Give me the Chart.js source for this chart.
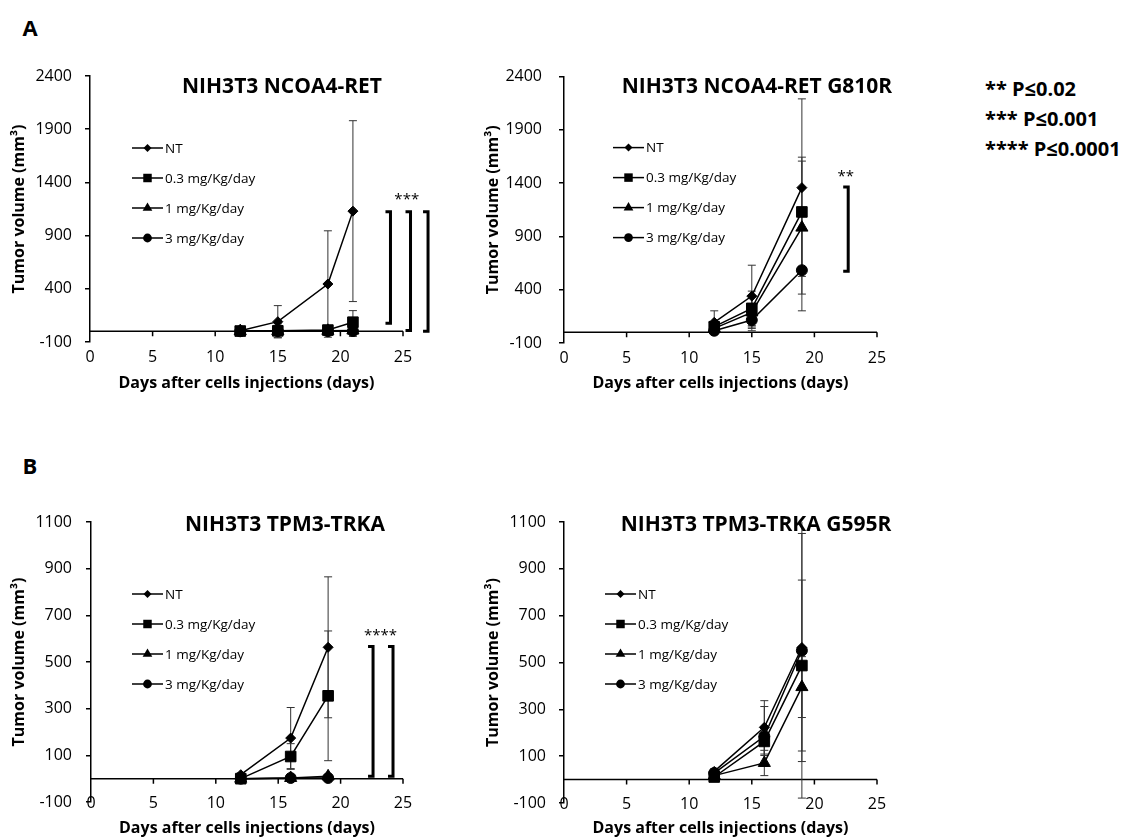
<!DOCTYPE html>
<html>
<head>
<meta charset="utf-8">
<script src="https://cdn.jsdelivr.net/npm/chart.js@4.4.0/dist/chart.umd.min.js"></script>
<style>
  body { margin: 0; width: 1138px; height: 838px; background: #fff; position: relative; overflow: hidden;
         font-family: 'Open Sans', sans-serif; color: #000; }
  canvas { position: absolute; }
  .txt { position: absolute; font-weight: bold; white-space: nowrap; transform: translate(-50%, -50%); z-index: 2; }
  .pv { position: absolute; left: 985px; font-weight: bold; font-size: 20px; white-space: nowrap; transform: translateY(-50%); }
</style>
</head>
<body>
<div class="txt" style="left:30px; top:27px; font-size:22px;">A</div>
<div class="txt" style="left:30px; top:465px; font-size:22px;">B</div>

<div class="txt" style="left:282px; top:85px; font-size:21px;">NIH3T3 NCOA4-RET</div>
<div class="txt" style="left:757px; top:85px; font-size:21px;">NIH3T3 NCOA4-RET G810R</div>
<div class="txt" style="left:285px; top:523px; font-size:21px;">NIH3T3 TPM3-TRKA</div>
<div class="txt" style="left:756px; top:523px; font-size:21px;">NIH3T3 TPM3-TRKA G595R</div>

<div class="pv" style="top:88px;">** P≤0.02</div>
<div class="pv" style="top:118px;">*** P≤0.001</div>
<div class="pv" style="top:148px;">**** P≤0.0001</div>

<canvas id="retChart" width="460" height="350" style="left:0px; top:50px;"></canvas>
<canvas id="g810Chart" width="460" height="350" style="left:470px; top:50px;"></canvas>
<canvas id="trkaChart" width="460" height="348" style="left:0px; top:490px;"></canvas>
<canvas id="g595Chart" width="460" height="348" style="left:470px; top:490px;"></canvas>

<script>
// Series shared by all four panels
const seriesNames = ['NT', '0.3 mg/Kg/day', '1 mg/Kg/day', '3 mg/Kg/day'];
const seriesMarkers = ['rectRot', 'rect', 'triangle', 'circle'];
const markerSizes = [5, 7.5, 7, 5.5];

// NIH3T3 NCOA4-RET
const retDays = [12, 15, 19, 21];
const retNT = [5, 91, 445, 1130];
const ret03 = [3, 5, 12, 86];
const ret1 = [2, 3, 5, 8];
const ret3 = [1, 2, 2, 3];
const retNTErr = [20, 151, 500, 850];
const ret03Err = [10, 65, 30, 109];
const ret1Err = [8, 10, 15, 55];
const ret3Err = [5, 8, 10, 30];
const retBracketX = [24, 25.6, 27];
const retBracketTop = [1125, 1125, 1125];
const retBracketBottom = [76, 7, 0];
const retStars = { x: 25.3, y: 1235, text: '***' };

// NIH3T3 NCOA4-RET G810R
const g810Days = [12, 15, 19];
const g810NT = [94, 340, 1358];
const g81003 = [53, 225, 1130];
const g8101 = [37, 187, 983];
const g8103 = [15, 115, 583];
const g810NTErr = [108, 290, 833];
const g81003Err = [40, 162, 514];
const g8101Err = [30, 150, 624];
const g8103Err = [20, 100, 381];
const g810BracketX = [22.7];
const g810BracketTop = [1363];
const g810BracketBottom = [574];
const g810Stars = { x: 22.5, y: 1457, text: '**' };

// NIH3T3 TPM3-TRKA
const trkaDays = [12, 16, 19];
const trkaNT = [17, 174, 563];
const trka03 = [0, 95, 355];
const trka1 = [0, 3, 10];
const trka3 = [0, 3, 3];
const trkaNTErr = [8, 131, 302];
const trka03Err = [3, 55, 278];
const trka1Err = [2, 3, 5];
const trka3Err = [2, 3, 3];
const trkaBracketX = [22.6, 24.2];
const trkaBracketTop = [566, 566];
const trkaBracketBottom = [10, 10];
const trkaStars = { x: 23.2, y: 612, text: '****' };

// NIH3T3 TPM3-TRKA G595R
const g595Days = [12, 16, 19];
const g595NT = [35, 223, 564];
const g59503 = [11, 163, 487];
const g5951 = [17, 71, 395];
const g5953 = [28, 185, 551];
const g595NTErr = [12, 114, 487];
const g59503Err = [8, 60, 365];
const g5951Err = [8, 54, 130];
const g5953Err = [10, 127, 630];

const FONT = "'Open Sans', sans-serif";

function drawMarker(ctx, style, x, y, r) {
    ctx.beginPath();
    if (style === 'rectRot') {
        ctx.moveTo(x, y - r); ctx.lineTo(x + r, y); ctx.lineTo(x, y + r); ctx.lineTo(x - r, y);
    } else if (style === 'rect') {
        const s = r * Math.SQRT1_2;
        ctx.rect(x - s, y - s, 2 * s, 2 * s);
    } else if (style === 'triangle') {
        ctx.moveTo(x, y - r);
        ctx.lineTo(x + r * 0.866, y + r * 0.5);
        ctx.lineTo(x - r * 0.866, y + r * 0.5);
    } else {
        ctx.arc(x, y, r, 0, Math.PI * 2);
    }
    ctx.closePath();
    ctx.fill();
}

// Zero axis, error bars, brackets and the in-plot legend
function extrasPlugin(panel) {
    return {
        id: 'extras',
        beforeDatasetsDraw(chart) {
            const { ctx, chartArea, scales: { x, y } } = chart;
            const y0 = y.getPixelForValue(0);
            ctx.save();
            ctx.strokeStyle = '#000';
            ctx.lineWidth = 1.5;
            ctx.beginPath();
            ctx.moveTo(chartArea.left, y0);
            ctx.lineTo(chartArea.right, y0);
            x.ticks.forEach(t => {
                const px = x.getPixelForValue(t.value);
                if (t.value === 0) return;
                ctx.moveTo(px, y0);
                ctx.lineTo(px, y0 + 5);
            });
            ctx.stroke();

            ctx.beginPath();
            ctx.rect(chartArea.left, chartArea.top, chartArea.right - chartArea.left, chartArea.bottom - chartArea.top + 2);
            ctx.clip();
            ctx.strokeStyle = '#333';
            ctx.lineWidth = 1;
            chart.data.datasets.forEach(ds => {
                ds.data.forEach((p, j) => {
                    const e = ds.errors[j];
                    const px = x.getPixelForValue(p.x);
                    const top = y.getPixelForValue(p.y + e);
                    const bot = y.getPixelForValue(p.y - e);
                    ctx.beginPath();
                    ctx.moveTo(px, top); ctx.lineTo(px, bot);
                    ctx.moveTo(px - 4, top); ctx.lineTo(px + 4, top);
                    ctx.moveTo(px - 4, bot); ctx.lineTo(px + 4, bot);
                    ctx.stroke();
                });
            });
            ctx.restore();
        },
        afterDraw(chart) {
            const { ctx, chartArea, scales: { x, y } } = chart;
            ctx.save();
            // x labels sitting on the -100 line (lower panels)
            if (panel.xLabelsOnMin) {
                ctx.fillStyle = '#000';
                ctx.font = '16px ' + FONT;
                ctx.textAlign = 'center';
                ctx.textBaseline = 'middle';
                const ly = y.getPixelForValue(y.min) + 1;
                x.ticks.forEach(t => ctx.fillText(String(t.value), x.getPixelForValue(t.value), ly));
            }
            // significance brackets
            ctx.strokeStyle = '#000';
            ctx.lineWidth = 3;
            (panel.bracketX || []).forEach((bx, i) => {
                const px = x.getPixelForValue(bx);
                const t = y.getPixelForValue(panel.bracketTop[i]);
                const b = y.getPixelForValue(panel.bracketBottom[i]);
                ctx.beginPath();
                ctx.moveTo(px - 5, t);
                ctx.lineTo(px, t);
                ctx.lineTo(px, b);
                ctx.lineTo(px - 5, b);
                ctx.stroke();
            });
            if (panel.stars) {
                ctx.fillStyle = '#000';
                ctx.font = '15px ' + FONT;
                ctx.textAlign = 'center';
                ctx.textBaseline = 'middle';
                ctx.fillText(panel.stars.text, x.getPixelForValue(panel.stars.x), y.getPixelForValue(panel.stars.y));
            }
            // legend inside the plot
            const lx = chartArea.left + panel.legendLeft;
            ctx.font = '13.5px ' + FONT;
            ctx.textAlign = 'left';
            ctx.textBaseline = 'middle';
            chart.data.datasets.forEach((ds, i) => {
                const ly = chartArea.top + panel.legendTop + i * 30;
                ctx.strokeStyle = '#000';
                ctx.lineWidth = 1.5;
                ctx.beginPath();
                ctx.moveTo(lx, ly);
                ctx.lineTo(lx + 31, ly);
                ctx.stroke();
                ctx.fillStyle = '#000';
                drawMarker(ctx, ds.pointStyle, lx + 15.5, ly, ds.pointRadius * 0.8);
                ctx.fillText(ds.label, lx + 33, ly + 1);
            });
            ctx.restore();
        }
    };
}

function buildDatasets(days, values, errors) {
    return values.map((vals, i) => ({
        label: seriesNames[i],
        data: days.map((d, j) => ({ x: d, y: vals[j] })),
        errors: errors[i],
        borderColor: '#000',
        backgroundColor: '#000',
        borderWidth: 1.5,
        pointStyle: seriesMarkers[i],
        pointRadius: markerSizes[i],
        pointBorderWidth: 1,
        tension: 0
    }));
}

function makePanel(panel) {
    const ctx = document.getElementById(panel.id).getContext('2d');
    return new Chart(ctx, {
        type: 'line',
        data: { datasets: buildDatasets(panel.days, panel.values, panel.errors) },
        options: {
            responsive: false,
            animation: false,
            devicePixelRatio: 1,
            layout: { padding: { top: panel.padTop, right: panel.padRight, bottom: 0, left: 0 } },
            plugins: { legend: { display: false }, tooltip: { enabled: false } },
            scales: {
                x: {
                    type: 'linear',
                    min: 0, max: 25,
                    afterFit: s => { s.height = panel.xHeight; },
                    grid: { display: false, drawTicks: false },
                    border: { display: false },
                    ticks: {
                        stepSize: 5, padding: 6, font: { family: FONT, size: 16 },
                        color: panel.xLabelsOnMin ? 'rgba(0,0,0,0)' : '#000'
                    },
                    title: {
                        display: true,
                        text: 'Days after cells injections (days)',
                        color: '#000',
                        padding: { top: 0, bottom: panel.xTitlePad },
                        font: { family: FONT, size: 16, weight: 'bold' }
                    }
                },
                y: {
                    min: panel.yMin, max: panel.yMax,
                    afterFit: s => { s.width = panel.yWidth; },
                    grid: { drawOnChartArea: false, drawTicks: true, tickLength: 5, color: '#000', lineWidth: 1.5 },
                    border: { display: true, color: '#000', width: 1.5 },
                    ticks: {
                        stepSize: panel.yStep, color: '#000', padding: panel.yTickPad,
                        font: { family: FONT, size: 16 },
                        callback: v => String(v)
                    },
                    title: {
                        display: true,
                        text: 'Tumor volume (mm³)',
                        color: '#000',
                        padding: { top: panel.yTitlePad, bottom: 0 },
                        font: { family: FONT, size: 16, weight: 'bold' }
                    }
                }
            }
        },
        plugins: [extrasPlugin(panel)]
    });
}

makePanel({
    id: 'retChart', days: retDays,
    values: [retNT, ret03, ret1, ret3], errors: [retNTErr, ret03Err, ret1Err, ret3Err],
    yMin: -100, yMax: 2400, yStep: 500,
    bracketX: retBracketX, bracketTop: retBracketTop, bracketBottom: retBracketBottom, stars: retStars,
    padTop: 26, padRight: 57, yWidth: 90, xHeight: 58, yTickPad: 13, yTitlePad: 10, xTitlePad: 7,
    legendLeft: 42, legendTop: 72
});

makePanel({
    id: 'g810Chart', days: g810Days,
    values: [g810NT, g81003, g8101, g8103], errors: [g810NTErr, g81003Err, g8101Err, g8103Err],
    yMin: -100, yMax: 2400, yStep: 500,
    bracketX: g810BracketX, bracketTop: g810BracketTop, bracketBottom: g810BracketBottom, stars: g810Stars,
    padTop: 26, padRight: 53, yWidth: 94, xHeight: 57, yTickPad: 17, yTitlePad: 14, xTitlePad: 7,
    legendLeft: 49, legendTop: 71
});

makePanel({
    id: 'trkaChart', days: trkaDays,
    values: [trkaNT, trka03, trka1, trka3], errors: [trkaNTErr, trka03Err, trka1Err, trka3Err],
    yMin: -100, yMax: 1100, yStep: 200,
    bracketX: trkaBracketX, bracketTop: trkaBracketTop, bracketBottom: trkaBracketBottom, stars: trkaStars,
    padTop: 32, padRight: 57, yWidth: 91, xHeight: 36, yTickPad: 14, yTitlePad: 10, xTitlePad: 0,
    legendLeft: 41, legendTop: 72, xLabelsOnMin: true
});

makePanel({
    id: 'g595Chart', days: g595Days,
    values: [g595NT, g59503, g5951, g5953], errors: [g595NTErr, g59503Err, g5951Err, g5953Err],
    yMin: -100, yMax: 1100, yStep: 200,
    padTop: 32, padRight: 53, yWidth: 94, xHeight: 35, yTickPad: 13, yTitlePad: 14, xTitlePad: 0,
    legendLeft: 41, legendTop: 72, xLabelsOnMin: true
});
</script>
</body>
</html>
